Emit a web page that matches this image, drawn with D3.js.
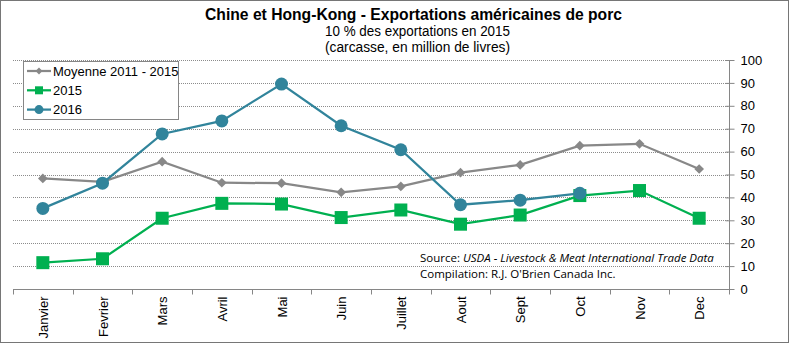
<!DOCTYPE html>
<html>
<head>
<meta charset="utf-8">
<script src="https://cdn.jsdelivr.net/npm/d3@7"></script>
<style>
  body { margin: 0; background: #fff; }
  svg { display: block; font-family: "Liberation Sans", Arial, sans-serif; }
  .title { font-weight: bold; font-size: 17px; }
  .sub { font-size: 14px; }
  .axis text { font-size: 13px; fill: #000; }
  .note { font-family: "Open Sans", "Noto Sans", sans-serif; font-size: 11.5px; fill: #000; }
</style>
</head>
<body>
<div id="chart"></div>
<script>
// data
var months = ["Janvier", "Fevrier", "Mars", "Avril", "Mai", "Juin", "Juillet", "Aout", "Sept", "Oct", "Nov", "Dec"];
var moyenne = [48.3, 46.8, 55.6, 46.4, 46.2, 42.2, 44.8, 50.8, 54.2, 62.6, 63.4, 52.4];
var y2015 = [11.5, 13.2, 30.9, 37.4, 37.1, 31.2, 34.5, 28.3, 32.3, 40.8, 43.0, 30.9];
var y2016 = [35.2, 46.2, 67.7, 73.4, 89.5, 71.3, 60.8, 36.8, 38.8, 41.8];
var yTicks = [0, 10, 20, 30, 40, 50, 60, 70, 80, 90, 100];

var W = 789, H = 343;
var plot = {left: 13, right: 729, top: 60, bottom: 289};

var svg = d3.select("#chart").append("svg")
  .attr("width", W).attr("height", H);

// outer border
svg.append("rect")
  .attr("x", 0.5).attr("y", 0.5)
  .attr("width", W - 1).attr("height", H - 1)
  .attr("fill", "#fff").attr("stroke", "#767676");

var x = d3.scaleBand().domain(months).range([plot.left, plot.right]);
var y = d3.scaleLinear().domain([0, 100]).range([plot.bottom, plot.top]);

// gridlines
svg.append("g").selectAll("line")
  .data(yTicks.slice(1))
  .enter().append("line")
  .attr("x1", plot.left).attr("x2", plot.right)
  .attr("y1", function(d) { return Math.round(y(d)) + 0.5; })
  .attr("y2", function(d) { return Math.round(y(d)) + 0.5; })
  .attr("stroke", "#8c8c8c")
  .attr("stroke-dasharray", "1,1");

// x axis
var xAxis = svg.append("g")
  .attr("class", "axis")
  .attr("transform", "translate(0," + (plot.bottom + 0.5) + ")");
xAxis.append("line")
  .attr("x1", plot.left).attr("x2", plot.right)
  .attr("stroke", "#868686");
xAxis.selectAll("line.tk")
  .data(d3.range(months.length + 1))
  .enter().append("line")
  .attr("class", "tk")
  .attr("x1", function(i) { return Math.round(plot.left + i * x.step()) + 0.5; })
  .attr("x2", function(i) { return Math.round(plot.left + i * x.step()) + 0.5; })
  .attr("y1", 0).attr("y2", 5)
  .attr("stroke", "#868686");
xAxis.selectAll("text")
  .data(months)
  .enter().append("text")
  .attr("transform", function(d) {
    return "translate(" + (x(d) + x.bandwidth() / 2 + 5) + ",7) rotate(-90)";
  })
  .attr("text-anchor", "end")
  .text(function(d) { return d; });

// y axis on the right
var yAxis = svg.append("g")
  .attr("class", "axis")
  .attr("transform", "translate(" + (plot.right + 0.5) + ",0)")
  .call(d3.axisRight(y).tickValues(yTicks).tickSize(5).tickPadding(6));
yAxis.select(".domain").attr("stroke", "#868686").attr("d", "M0," + plot.top + "V" + plot.bottom);
yAxis.selectAll(".tick line").attr("stroke", "#868686").attr("x1", -4);
yAxis.selectAll(".tick text").attr("font-family", "Liberation Sans, Arial").attr("font-size", 13);

// lines
var series = [
  { name: "Moyenne 2011 - 2015", values: moyenne, color: "#888888", shape: "diamond" },
  { name: "2015", values: y2015, color: "#00B050", shape: "square" },
  { name: "2016", values: y2016, color: "#31849B", shape: "circle" }
];

var line = d3.line()
  .x(function(d, i) { return x(months[i]) + x.bandwidth() / 2; })
  .y(function(d) { return y(d); });

function marker(g, shape, color, cx, cy) {
  if (shape === "diamond") {
    g.append("path")
      .attr("d", d3.symbol().type(d3.symbolDiamond2).size(60))
      .attr("transform", "translate(" + cx + "," + cy + ")")
      .attr("fill", color);
  } else if (shape === "square") {
    g.append("rect")
      .attr("x", cx - 6.5).attr("y", cy - 6.5)
      .attr("width", 13).attr("height", 13)
      .attr("fill", color);
  } else {
    g.append("circle")
      .attr("cx", cx).attr("cy", cy).attr("r", 6.5)
      .attr("fill", color);
  }
}

series.forEach(function(s) {
  var g = svg.append("g");
  g.append("path")
    .datum(s.values)
    .attr("d", line)
    .attr("fill", "none")
    .attr("stroke", s.color)
    .attr("stroke-width", 2.25);
  s.values.forEach(function(v, i) {
    marker(g, s.shape, s.color, x(months[i]) + x.bandwidth() / 2, y(v));
  });
});

// legend
var leg = svg.append("g");
leg.append("rect")
  .attr("x", 23.5).attr("y", 61.5)
  .attr("width", 155).attr("height", 58)
  .attr("fill", "#fff").attr("stroke", "#868686");
series.forEach(function(s, i) {
  var ly = 71 + i * 19.3;
  leg.append("line")
    .attr("x1", 27).attr("x2", 51)
    .attr("y1", ly).attr("y2", ly)
    .attr("stroke", s.color).attr("stroke-width", 2.25);
  if (s.shape === "diamond") {
    leg.append("path")
      .attr("d", d3.symbol().type(d3.symbolDiamond2).size(30))
      .attr("transform", "translate(39," + ly + ")")
      .attr("fill", s.color);
  } else if (s.shape === "square") {
    leg.append("rect").attr("x", 35).attr("y", ly - 4).attr("width", 8).attr("height", 8).attr("fill", s.color);
  } else {
    leg.append("circle").attr("cx", 39).attr("cy", ly).attr("r", 4.5).attr("fill", s.color);
  }
  leg.append("text")
    .attr("x", 53).attr("y", ly + 4.5)
    .attr("font-size", 13)
    .text(s.name);
});

// titles
svg.append("text").attr("class", "title")
  .attr("x", 205).attr("y", 20)
  .attr("textLength", 417).attr("lengthAdjust", "spacingAndGlyphs")
  .text("Chine et Hong-Kong - Exportations américaines de porc");
svg.append("text").attr("class", "sub")
  .attr("x", 325).attr("y", 36)
  .attr("textLength", 185).attr("lengthAdjust", "spacingAndGlyphs")
  .text("10 % des exportations en 2015");
svg.append("text").attr("class", "sub")
  .attr("x", 325).attr("y", 52)
  .attr("textLength", 185).attr("lengthAdjust", "spacingAndGlyphs")
  .text("(carcasse, en million de livres)");

// source notes
var src = svg.append("text").attr("class", "note")
  .attr("x", 420).attr("y", 262);
src.append("tspan").text("Source: ");
src.append("tspan").attr("font-style", "italic").text("USDA - Livestock & Meat International Trade Data");
svg.append("text").attr("class", "note")
  .attr("x", 420).attr("y", 278)
  .text("Compilation: R.J. O'Brien Canada Inc.");
</script>
</body>
</html>
